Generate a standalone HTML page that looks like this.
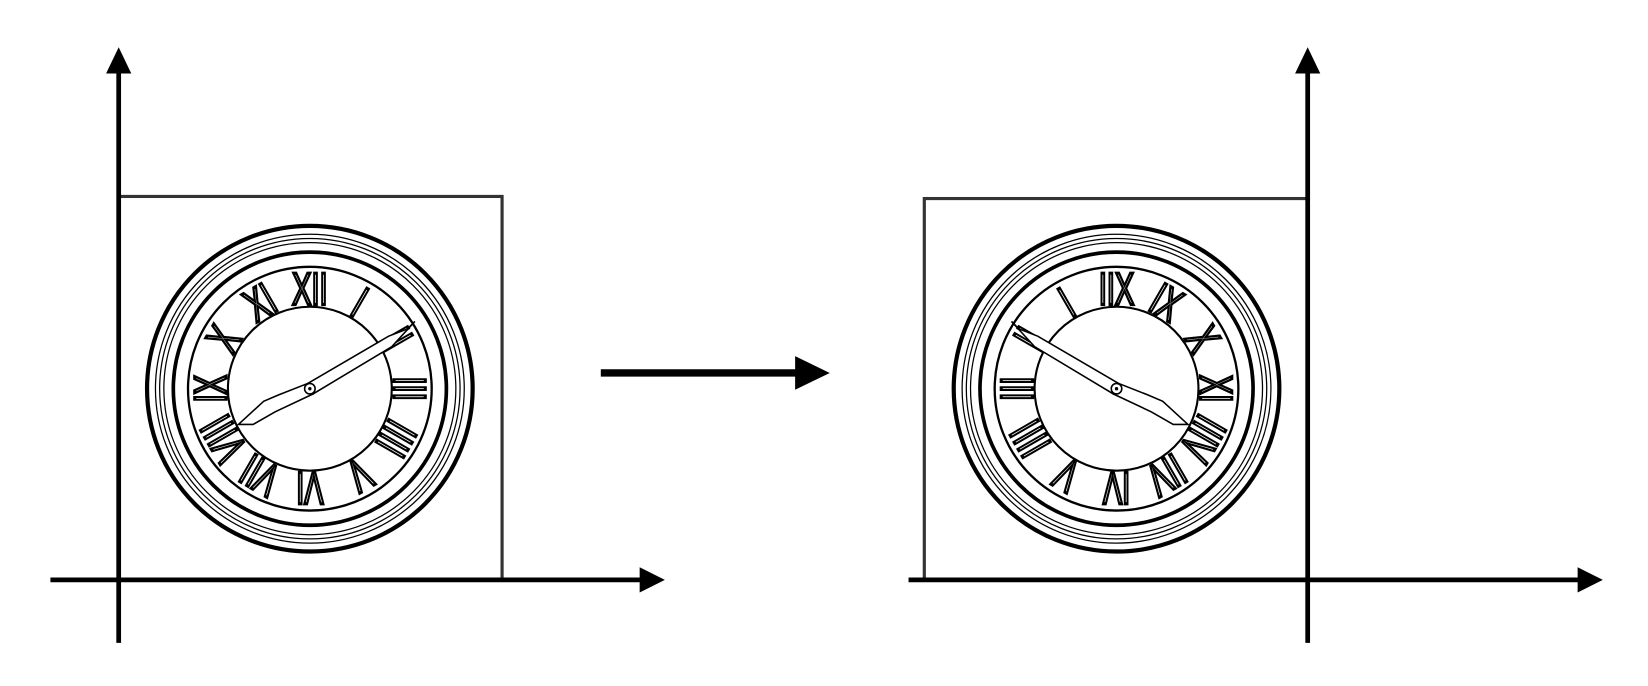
<!DOCTYPE html>
<html><head><style>
html,body{margin:0;padding:0;background:#fff;}
svg{display:block;}
</style></head><body>
<svg width="1648" height="686" viewBox="0 0 1569 653" preserveAspectRatio="none" xmlns="http://www.w3.org/2000/svg">
<defs>
<g id="clock">
  <circle cx="0" cy="0" r="155" fill="#fff" stroke="#000" stroke-width="4"/>
  <circle cx="0" cy="0" r="147" fill="none" stroke="#000" stroke-width="1.2"/>
  <circle cx="0" cy="0" r="143" fill="none" stroke="#000" stroke-width="1.2"/>
  <circle cx="0" cy="0" r="139" fill="none" stroke="#000" stroke-width="1.2"/>
  <circle cx="0" cy="0" r="130" fill="none" stroke="#000" stroke-width="3.5"/>
  <circle cx="0" cy="0" r="116" fill="none" stroke="#000" stroke-width="2.2"/>
  <circle cx="0" cy="0" r="78" fill="#fff" stroke="#000" stroke-width="2"/>
  <g font-family="Liberation Sans Narrow, Liberation Sans, sans-serif" font-size="29" fill="#fff" stroke="#000" stroke-width="2" text-anchor="middle">
    <text transform="rotate(0) translate(0,-80) scale(0.95,1.5)">XII</text>
    <text transform="rotate(30) translate(0,-80) scale(0.95,1.5)">I</text>
    <text transform="rotate(60) translate(0,-80) scale(0.95,1.5)">II</text>
    <text transform="rotate(90) translate(0,-80) scale(0.95,1.5)">III</text>
    <text transform="rotate(120) translate(0,-80) scale(0.95,1.5)">IIII</text>
    <text transform="rotate(150) translate(0,-80) scale(0.95,1.5)">V</text>
    <text transform="rotate(180) translate(0,-80) scale(0.95,1.5)">VI</text>
    <text transform="rotate(210) translate(0,-80) scale(0.95,1.5)">VII</text>
    <text transform="rotate(240) translate(0,-80) scale(0.95,1.5)">VIII</text>
    <text transform="rotate(270) translate(0,-80) scale(0.95,1.5)">IX</text>
    <text transform="rotate(300) translate(0,-80) scale(0.95,1.5)">X</text>
    <text transform="rotate(330) translate(0,-80) scale(0.95,1.5)">XI</text>
  </g>
  <polygon points="-2,-5 75,-50 93,-57 100,-64 78,-40 3,5" fill="#fff" stroke="#000" stroke-width="1.5"/>
  <polygon points="-2,-5 -30,6 -44,12 -68,34 -54,34 -33,22 3,5" fill="#fff" stroke="#000" stroke-width="1.5"/>
  <circle cx="0" cy="0" r="5" fill="#fff" stroke="#000" stroke-width="1.5"/>
  <circle cx="0" cy="0" r="1.6" fill="#000"/>
</g>
</defs>
<rect x="113" y="187" width="365" height="365" fill="#fff" stroke="#333" stroke-width="3"/>
<use href="#clock" transform="translate(295,370)"/>
<line x1="113" y1="612" x2="113" y2="66" stroke="#000" stroke-width="4.5"/>
<polygon points="113,45 101,70 125,70" fill="#000"/>
<line x1="48" y1="552" x2="612" y2="552" stroke="#000" stroke-width="4.5"/>
<polygon points="633,552 609,540 609,564" fill="#000"/>
<line x1="572" y1="355" x2="760" y2="355" stroke="#000" stroke-width="7"/>
<polygon points="790,355 757,339 757,371" fill="#000"/>
<rect x="880" y="189" width="365" height="363" fill="#fff" stroke="#333" stroke-width="3"/>
<use href="#clock" transform="translate(1063,370) scale(-1,1)"/>
<line x1="865" y1="552" x2="1505" y2="552" stroke="#000" stroke-width="4.5"/>
<polygon points="1526,552 1502,540 1502,564" fill="#000"/>
<line x1="1245" y1="612" x2="1245" y2="66" stroke="#000" stroke-width="4.5"/>
<polygon points="1245,45 1233,70 1257,70" fill="#000"/>
</svg>
</body></html>
